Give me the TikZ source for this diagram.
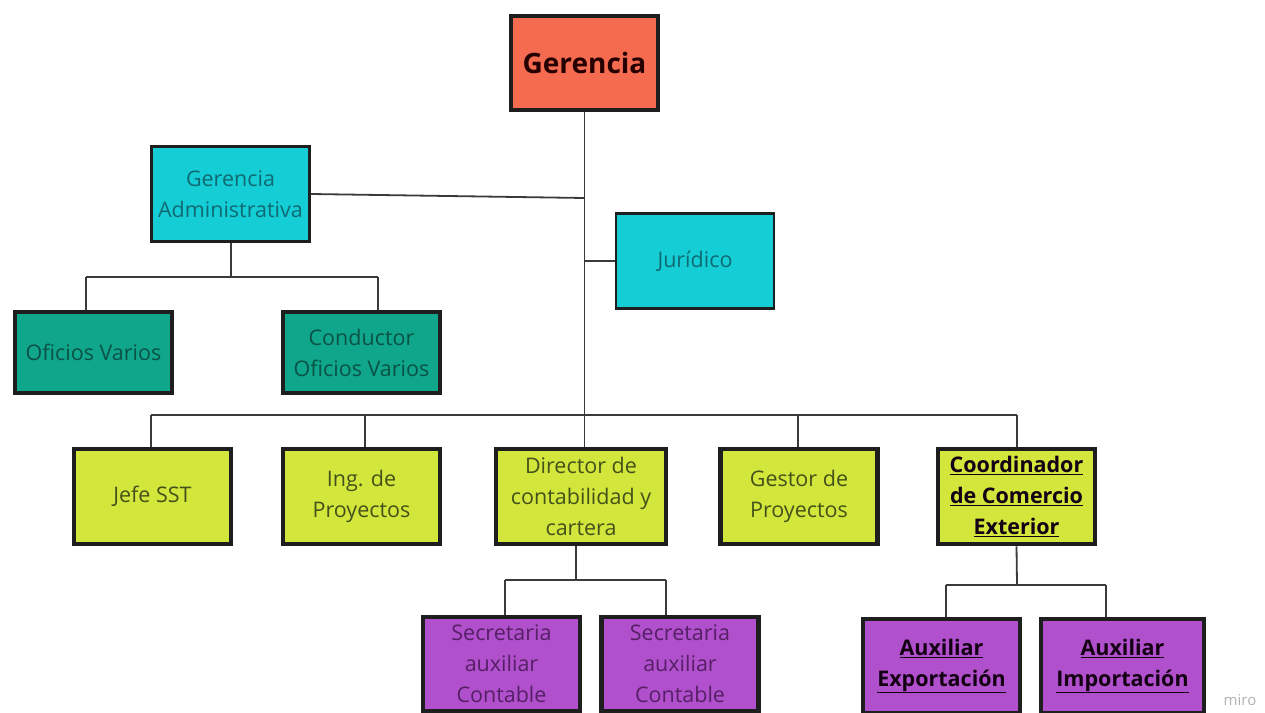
\documentclass[tikz,border=0pt]{standalone}
\usepackage{fontspec}
\setmainfont{Open Sans}
\usetikzlibrary{calc}

\definecolor{cOrange}{HTML}{F46B50}
\definecolor{cTeal}{HTML}{14CDD5}
\definecolor{cTealTxt}{HTML}{0F6A73}
\definecolor{cGreen}{HTML}{0FA68B}
\definecolor{cGreenTxt}{HTML}{0A5246}
\definecolor{cLime}{HTML}{D2E63C}
\definecolor{cLimeTxt}{HTML}{44511A}
\definecolor{cPurple}{HTML}{B150CC}
\definecolor{cPurpleTxt}{HTML}{561F66}
\definecolor{cBorder}{HTML}{1E1E1E}
\definecolor{cLine}{HTML}{3A3A3A}

\tikzset{
  box/.style={draw=cBorder, line width=4.5pt, align=center, inner sep=0pt,
    font=\fontsize{21.5}{31}\selectfont},
  topbox/.style={box, fill=cOrange, line width=4pt, minimum width=147pt, minimum height=94pt,
    font=\fontsize{28}{31}\selectfont\bfseries, text=black!85!red},
  tealbox/.style={box, fill=cTeal, text=cTealTxt, line width=3pt, minimum width=158pt, minimum height=95pt},
  greenbox/.style={box, fill=cGreen, text=cGreenTxt, minimum width=157pt, minimum height=81pt},
  limebox/.style={box, fill=cLime, text=cLimeTxt, minimum width=157pt, minimum height=95pt},
  purplebox/.style={box, fill=cPurple, text=cPurpleTxt, minimum width=157pt, minimum height=94pt},
  boldtxt/.style={font=\fontsize{21.5}{31}\selectfont\bfseries, text=black!85!violet},
  link/.style={draw=cLine, line width=1.8pt},
}

\begin{document}
\begin{tikzpicture}[x=1pt, y=-1pt]
  \useasboundingbox (0,0) rectangle (1265,712);
  \clip (0,0) rectangle (1265,712);
  \fill[white] (0,0) rectangle (1265,712);

  % boxes
  \node[topbox] (ger) at (584.5,63) {Gerencia};
  \node[tealbox] (gadm) at (230.5,194) {Gerencia\\Administrativa};
  \node[tealbox, line width=2.5pt] (jur) at (695,261) {Jurídico};
  \node[greenbox] (ofi) at (93.5,352.5) {Oficios Varios};
  \node[greenbox] (cond) at (361.5,352.5) {Conductor\\Oficios Varios};

  \node[limebox] (jefe) at (152.5,496.5) {Jefe SST};
  \node[limebox] (ing) at (361.5,496.5) {Ing. de\\Proyectos};
  \node[limebox, minimum width=170pt] (dir) at (581,496.5) {Director de\\contabilidad y\\cartera};
  \node[limebox] (gest) at (799,496.5) {Gestor de\\Proyectos};
  \node[limebox, boldtxt] (coord) at (1016.5,496.5)
    {\underline{Coordinador}\\\underline{de Comercio}\\\underline{Exterior}};

  \node[purplebox] (sec1) at (501.5,664) {Secretaria\\auxiliar\\Contable};
  \node[purplebox] (sec2) at (680,664) {Secretaria\\auxiliar\\Contable};
  \node[purplebox, boldtxt] (exp) at (941.5,666)
    {\underline{Auxiliar}\\\underline{Exportación}};
  \node[purplebox, boldtxt, minimum width=163pt] (imp) at (1122.5,666)
    {\underline{Auxiliar}\\\underline{Importación}};

  % junction points
  \coordinate (gaj) at (231,277);
  \coordinate (dj) at (576,580);
  \coordinate (cj) at (1017,585);

  % trunk from Gerencia
  \draw[link] (ger.south) -- (ger.south |- dir.north);
  \draw[link] (gadm.east) -- (ger.south |- 0,198);
  \draw[link] (jur.west) -- (ger.south |- jur.west);

  % middle row
  \draw[link] (151,415) -- (1017,415);
  \draw[link] (151,415) -- (151,0 |- jefe.north);
  \draw[link] (365,415) -- (365,0 |- ing.north);
  \draw[link] (798,415) -- (798,0 |- gest.north);
  \draw[link] (1017,415) -- (1017,0 |- coord.north);

  % Gerencia Administrativa branch
  \draw[link] (gadm.south -| gaj) -- (gaj);
  \draw[link] (86,277) -- (378,277);
  \draw[link] (86,277) -- (86,0 |- ofi.north);
  \draw[link] (378,277) -- (378,0 |- cond.north);

  % Director branch
  \draw[link] (dir.south -| dj) -- (dj);
  \draw[link] (505,580) -- (666,580);
  \draw[link] (505,580) -- (505,0 |- sec1.north);
  \draw[link] (666,580) -- (666,0 |- sec2.north);

  % Coordinador branch
  \draw[link] (coord.south) -- (cj);
  \draw[link] (946,585) -- (1106,585);
  \draw[link] (946,585) -- (946,0 |- exp.north);
  \draw[link] (1106,585) -- (1106,0 |- imp.north);

  \node[text=black!30, font=\fontsize{15}{15}\selectfont] (miro) at (1240,700) {miro};
\end{tikzpicture}
\end{document}
